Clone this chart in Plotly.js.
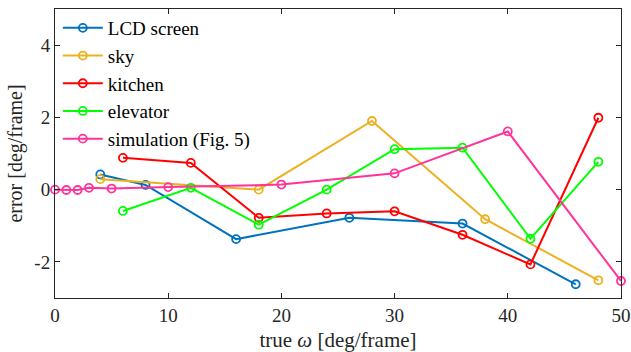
<!DOCTYPE html>
<html>
<head>
<meta charset="utf-8">
<script src="https://cdn.plot.ly/plotly-3.0.1.min.js"></script>
<style>html,body{margin:0;padding:0;background:#fff;}#chart{width:631px;height:352px;}</style>
</head>
<body>
<div id="chart"></div>
<script>
const lcdX = [4, 8, 16, 26, 36, 46];
const lcdY = [0.42, 0.13, -1.37, -0.78, -0.94, -2.62];
const skyX = [4, 18, 28, 38, 48];
const skyY = [0.29, 0.0, 1.9, -0.82, -2.51];
const kitchenX = [6, 12, 18, 24, 30, 36, 42, 48];
const kitchenY = [0.88, 0.74, -0.78, -0.66, -0.6, -1.25, -2.07, 1.99];
const elevatorX = [6, 12, 18, 24, 30, 36, 42, 48];
const elevatorY = [-0.59, 0.05, -0.97, 0.0, 1.12, 1.16, -1.36, 0.77];
const simX = [0, 1, 2, 3, 5, 10, 20, 30, 40, 50];
const simY = [0.0, -0.01, -0.01, 0.05, 0.03, 0.07, 0.14, 0.45, 1.61, -2.53];
const seriesNames = ["LCD screen", "sky", "kitchen", "elevator", "simulation (Fig. 5)"];
const xTickVals = [0, 10, 20, 30, 40, 50];
const xTickText = ["0", "10", "20", "30", "40", "50"];
const yTickVals = [-2, 0, 2, 4];
const yTickText = ["-2", "0", "2", "4"];

const colors = ["#0072BD", "#EDB120", "#FF0000", "#00FF00", "#FF3399"];
const xs = [lcdX, skyX, kitchenX, elevatorX, simX];
const ys = [lcdY, skyY, kitchenY, elevatorY, simY];

const traces = seriesNames.map((n, i) => ({
  x: xs[i], y: ys[i], name: n, type: "scatter", mode: "lines+markers",
  cliponaxis: false,
  line: {color: colors[i], width: 2},
  marker: {symbol: "circle-open", size: 8, color: colors[i], line: {width: 1.8, color: colors[i]}}
}));

const axisCommon = {
  showgrid: false, zeroline: false, showline: true, mirror: "ticks",
  linecolor: "#262626", linewidth: 1, ticks: "inside", ticklen: 5, tickwidth: 1,
  tickcolor: "#262626", tickfont: {family: "Liberation Serif", size: 19, color: "#262626"}
};

const layout = {
  width: 631, height: 352,
  margin: {l: 55, r: 10, t: 9, b: 54},
  paper_bgcolor: "#fff", plot_bgcolor: "#fff",
  font: {family: "Liberation Serif", color: "#262626"},
  showlegend: true,
  legend: {x: 0.005, y: 1.0, xanchor: "left", yanchor: "top", bgcolor: "rgba(0,0,0,0)",
    font: {family: "Liberation Serif", size: 19, color: "#000"}, tracegroupgap: 0, itemwidth: 40},
  xaxis: Object.assign({}, axisCommon, {range: [0, 50], tickvals: xTickVals, ticktext: xTickText,
    title: {text: "true <i>ω</i> [deg/frame]", font: {family: "Liberation Serif", size: 21, color: "#262626"}, standoff: 10}}),
  yaxis: Object.assign({}, axisCommon, {range: [-3, 5], tickvals: yTickVals, ticktext: yTickText,
    title: {text: "error [deg/frame]", font: {family: "Liberation Serif", size: 20, color: "#262626"}, standoff: 6}})
};

Plotly.newPlot("chart", traces, layout, {staticPlot: true, displayModeBar: false});
</script>
</body>
</html>
